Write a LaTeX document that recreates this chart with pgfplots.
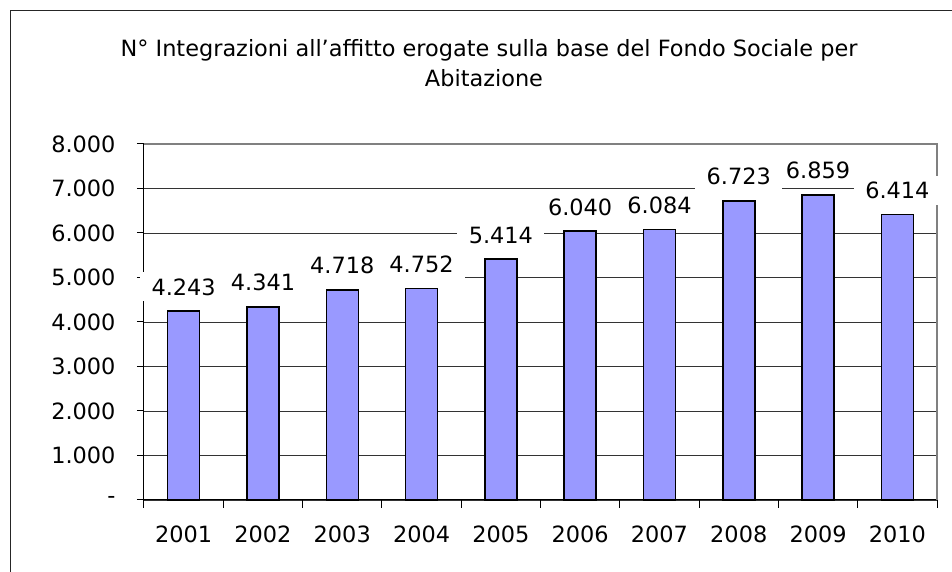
\documentclass[border=0pt]{standalone}
\usepackage{fontspec}
\setmainfont{DejaVu Sans}
\usepackage{pgfplots}
\pgfplotsset{compat=1.18}
\definecolor{barblue}{HTML}{9999FF}
\definecolor{framegray}{HTML}{808080}

\begin{document}
\begin{tikzpicture}[x=1bp,y=1bp]
\begin{axis}[
    name=ax,
    at={(0,0)}, anchor=south west,
    scale only axis,
    width=793bp, height=356bp,
    set layers,
    xmin=-0.5, xmax=9.5,
    ymin=0, ymax=8000,
    axis x line*=bottom,
    axis y line*=left,
    axis line style={black, line width=1bp},
    ybar, bar width=32bp,
    ytick={0,1000,...,8000},
    yticklabels={-,1.000,2.000,3.000,4.000,5.000,6.000,7.000,8.000},
    xtick={0,...,9},
    xticklabels={2001,2002,2003,2004,2005,2006,2007,2008,2009,2010},
    minor xtick={-0.5,0.5,...,9.5},
    tick align=outside,
    major tick length=7bp,
    minor tick length=8bp,
    major x tick style={draw=none},
    minor x tick style={black, line width=1bp},
    ytick style={black, line width=1bp},
    ymajorgrids,
    grid style={black!80, line width=0.9bp},
    ticklabel style={font=\fontsize{22.5}{27}\selectfont},
    yticklabel style={xshift=-18bp},
    xticklabel style={yshift=-15bp},
    /pgf/number format/assume math mode=true,
    nodes near coords,
    nodes near coords style={font=\fontsize{22.5}{27}\selectfont, fill=white,
        inner xsep=11.5bp, inner ysep=6bp, yshift=9bp, anchor=south},
    every node near coord/.append style={/pgf/number format/.cd, fixed, precision=0, 1000 sep={.}},
    clip=false,
]
\draw[framegray, line width=1.2bp] (rel axis cs:0,1) -- (rel axis cs:1,1) -- (rel axis cs:1,0);
\addplot[fill=barblue, draw=black, line width=1.5bp] coordinates {
    (0,4243) (1,4341) (2,4718) (3,4752) (4,5414)
    (5,6040) (6,6084) (7,6723) (8,6859) (9,6414)
};
\end{axis}
% picture coordinates: axis box south west at (0,0) = image (144,500)
\pgfresetboundingbox
\useasboundingbox (-144,-72) rectangle (808,500);
% chart frame (right and bottom edges lie outside the picture)
\draw[line width=1.8bp, black!85] (-133.5,-72) -- (-133.5,489.5) -- (808,489.5);
% title
\node[anchor=base, font=\fontsize{22.5}{27}\selectfont] at (345,443) {N° Integrazioni all'affitto erogate sulla base del Fondo Sociale per};
\node[anchor=base, font=\fontsize{22.5}{27}\selectfont] at (340,413) {Abitazione};
\end{tikzpicture}
\end{document}
